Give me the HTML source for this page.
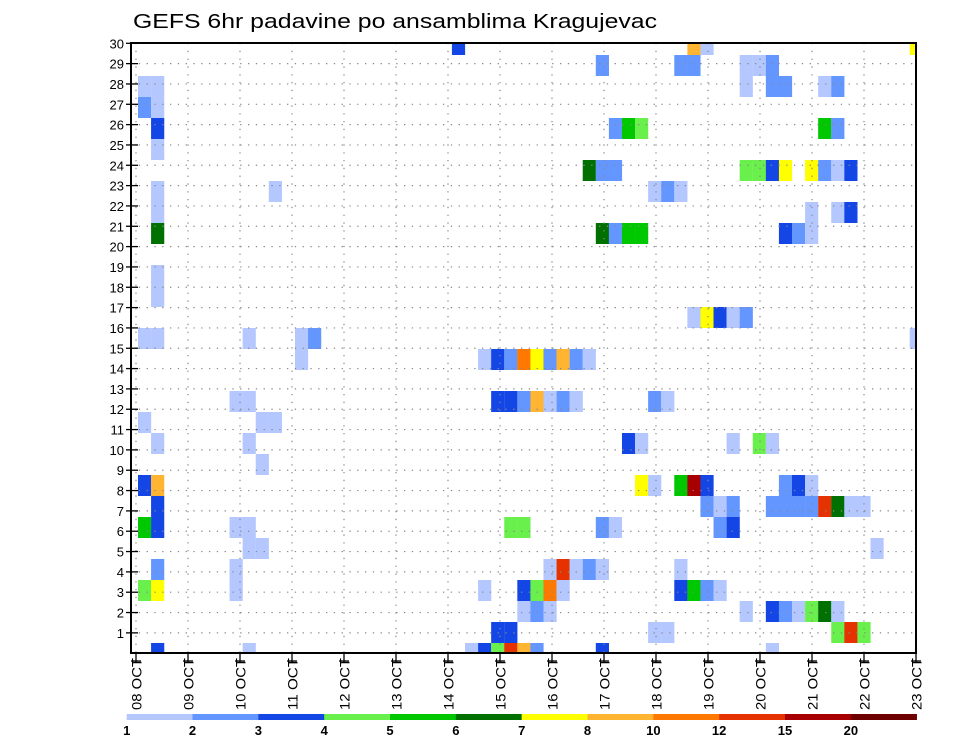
<!DOCTYPE html>
<html><head><meta charset="utf-8">
<style>
html,body{margin:0;padding:0;background:#fff;}
svg{display:block;font-family:"Liberation Sans","DejaVu Sans",sans-serif;}
</style></head>
<body>
<svg id="chart" width="960" height="742" viewBox="0 0 960 742" xmlns="http://www.w3.org/2000/svg">
<text x="133" y="28" font-size="20" textLength="524" lengthAdjust="spacingAndGlyphs" fill="#000">GEFS 6hr padavine po ansamblima Kragujevac</text>
<g id="cells"></g>
<g id="grid"></g>
<rect x="131" y="43" width="785" height="610" fill="none" stroke="#000" stroke-width="2"/>
<g id="yaxis"></g>
<g id="xaxis"></g>
<g id="colorbar"></g>
</svg>
<script>
// ---- data ----
const dayLabels = ["08 OCT","09 OCT","10 OCT","11 OCT","12 OCT","13 OCT","14 OCT","15 OCT","16 OCT","17 OCT","18 OCT","19 OCT","20 OCT","21 OCT","22 OCT","23 OCT"];
const memberLabels = [1,2,3,4,5,6,7,8,9,10,11,12,13,14,15,16,17,18,19,20,21,22,23,24,25,26,27,28,29,30];
const levels = [1,2,3,4,5,6,7,8,10,12,15,20];
const levelColors = ["#b4c8ff","#6496ff","#1446e6","#6af04c","#00c800","#007000","#ffff00","#ffb432","#ff7800","#e63200","#a80000","#6e0000"];
// 6-hourly step indices (0..59) per ensemble row (bottom row first)
const memberSteps = [
 [1,8,25,26,27,28,29,30,35,48],
 [27,28,39,40,53,54,55],
 [29,30,31,46,48,49,50,51,52,53],
 [0,1,7,26,29,30,31,32,41,42,43,44],
 [1,7,31,32,33,34,35,41],
 [8,9,56],
 [0,1,7,8,28,29,35,36,44,45],
 [1,43,44,45,48,49,50,51,52,53,54,55],
 [0,1,38,39,41,42,43,49,50,51],
 [9],
 [1,8,37,38,45,47,48],
 [0,9,10],
 [7,8,27,28,29,30,31,32,33,39,40],
 [],
 [12,26,27,28,29,30,31,32,33,34],
 [0,1,8,12,13,59],
 [42,43,44,45,46],
 [1],
 [1],
 [],
 [1,35,36,37,38,49,50,51],
 [1,51,53,54],
 [1,10,39,40,41],
 [34,35,36,46,47,48,49,51,52,53,54],
 [1],
 [1,36,37,38,52,53],
 [0,1],
 [0,1,46,48,49,52,53],
 [35,41,42,46,47,48],
 [24,42,43,59]
];
// 6hr precipitation (mm) matching memberSteps
const memberRain = [
 [3.5,1.5,1.5,3.5,4.5,13,9,2.5,3.5,1.5],
 [3.5,3.5,1.5,1.5,4.5,13,4.5],
 [1.5,2.5,1.5,1.5,3.5,2.5,1.5,4.5,6.5,1.5],
 [4.5,7.5,1.5,1.5,3.5,4.5,11,1.5,3.5,5.5,2.5,1.5],
 [2.5,1.5,1.5,13,1.5,2.5,1.5,1.5],
 [1.5,1.5,1.5],
 [5.5,3.5,1.5,1.5,4.5,4.5,2.5,1.5,2.5,3.5],
 [3.5,2.5,1.5,2.5,2.5,2.5,2.5,2.5,13,6.5,1.5,1.5],
 [3.5,9,7.5,1.5,5.5,17,3.5,2.5,3.5,1.5],
 [1.5],
 [1.5,1.5,3.5,1.5,1.5,4.5,1.5],
 [1.5,1.5,1.5],
 [1.5,1.5,3.5,3.5,2.5,9,1.5,2.5,1.5,2.5,1.5],
 [],
 [1.5,1.5,3.5,2.5,11,7.5,2.5,9,2.5,1.5],
 [1.5,1.5,1.5,1.5,2.5,1.5],
 [1.5,7.5,3.5,1.5,2.5],
 [1.5],
 [1.5],
 [],
 [6.5,6.5,2.5,5.5,5.5,3.5,2.5,1.5],
 [1.5,1.5,1.5,3.5],
 [1.5,1.5,1.5,2.5,1.5],
 [6.5,2.5,2.5,4.5,4.5,3.5,7.5,7.5,2.5,1.5,3.5],
 [1.5],
 [3.5,2.5,5.5,4.5,5.5,2.5],
 [2.5,1.5],
 [1.5,1.5,1.5,2.5,2.5,1.5,2.5],
 [2.5,2.5,2.5,1.5,1.5,2.5],
 [3.5,9,1.5,7.5]
];

// ---- scales ----
const NS="http://www.w3.org/2000/svg";
const PL=131, PR=916, PT=43, PB=653;
const STEP_W=13.08;
function xDay(d){return 136+52*d;}
function xStep(k){return 138+STEP_W*k;}
function yCellTop(j){return 643-21*j;}
function yRow(r){return 43.3+(30-r)*20.33;}
function colorFor(v){let c=null;for(let i=0;i<levels.length;i++){if(v>=levels[i])c=levelColors[i];}return c;}
function mk(tag,attrs,parent){const e=document.createElementNS(NS,tag);for(const a in attrs)e.setAttribute(a,attrs[a]);parent.appendChild(e);return e;}

// cells
const gc=document.getElementById('cells');
memberSteps.forEach((steps,j)=>{
  steps.forEach((k,i)=>{
    const v=memberRain[j][i]; const col=colorFor(v); if(!col)return;
    let x0=Math.max(PL,xStep(k)), x1=Math.min(PR,xStep(k)+STEP_W+0.1);
    let y0=Math.max(PT,yCellTop(j)), y1=Math.min(PB,yCellTop(j)+21);
    const r=mk('rect',{x:x0,y:y0,width:x1-x0,height:y1-y0,fill:col},gc);
    
    
  });
});

// grid
const gg=document.getElementById('grid');
for(let r=1;r<30;r++){
  const l=mk('line',{x1:PL,x2:PR,y1:yRow(r),y2:yRow(r),stroke:'#888','stroke-width':1.2,'stroke-dasharray':'1.3 6.5'},gg);
  
  
}
for(let d=0;d<15;d++){
  const l=mk('line',{x1:xDay(d),x2:xDay(d),y1:PT,y2:PB,stroke:'#888','stroke-width':1.2,'stroke-dasharray':'1.3 6.5'},gg);
  
  
}

// y axis
const gy=document.getElementById('yaxis');
memberLabels.forEach(r=>{
  const y=yRow(r);
  const t=mk('line',{x1:126,x2:138,y1:y,y2:y,stroke:'#000','stroke-width':1.3},gy);
  
  
  const tx=mk('text',{x:124,y:y+5,'font-size':13,'text-anchor':'end',fill:'#000'},gy);
  tx.textContent=String(r);
  
  
});

// x axis
const gx=document.getElementById('xaxis');
dayLabels.forEach((lab,d)=>{
  const x=xDay(d);
  const t=mk('line',{x1:x,x2:x,y1:PB,y2:663,stroke:'#000','stroke-width':1.3},gx);
  
  
  const t2=mk('line',{x1:x-5,x2:x+5,y1:661,y2:661,stroke:'#000','stroke-width':1.3},gx);
  
  
  const tx=mk('text',{x:0,y:0,'font-size':14,transform:`translate(${x+5.5},710) rotate(-90)`,textLength:52,lengthAdjust:'spacingAndGlyphs',fill:'#000'},gx);
  tx.textContent=lab;
  
  
});

// colorbar
const gb=document.getElementById('colorbar');
const cbX=126.7, cbW=65.83;
levelColors.forEach((c,i)=>{
  const r=mk('rect',{x:cbX+cbW*i,y:714,width:cbW+0.3,height:6,fill:c},gb);
  
  
});
levels.forEach((v,i)=>{
  const tx=mk('text',{x:cbX+cbW*i,y:735,'font-size':13,'font-weight':'bold','text-anchor':'middle',fill:'#000'},gb);
  tx.textContent=String(v);
  
  
});
</script>
</body></html>
